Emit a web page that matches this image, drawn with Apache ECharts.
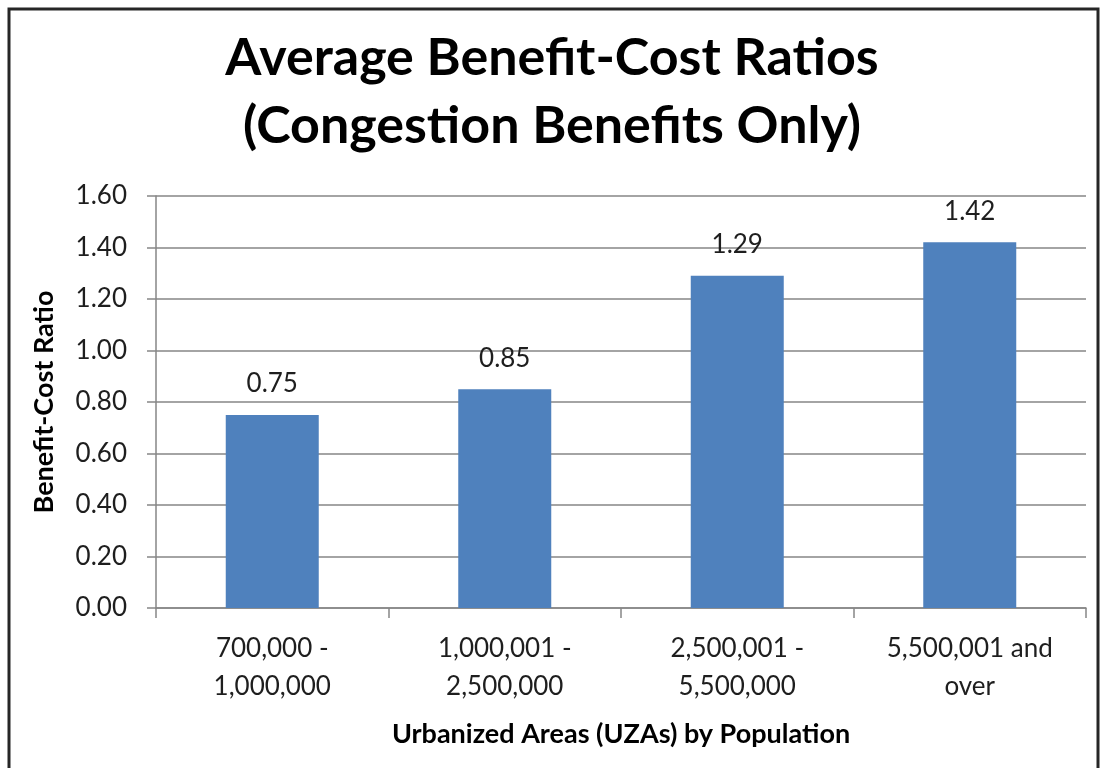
<!DOCTYPE html>
<html>
  <head>
    <meta charset="utf-8" />
    <title>Average Benefit-Cost Ratios</title>
    <script src="https://cdn.jsdelivr.net/npm/echarts@6/dist/echarts.min.js"></script>
  </head>
  <body style="margin:0;">
    <div id="main" style="width: 1104px;height:768px;"></div>
    <script type="text/javascript">
      var categories = ["700,000 -\n1,000,000", "1,000,001 -\n2,500,000", "2,500,001 -\n5,500,000", "5,500,001 and\nover"];
      var ratios = [0.75, 0.85, 1.29, 1.42];
      var yTicks = [0, 1.6, 0.2]; // min, max, step

      var font = "Lato, 'Open Sans', sans-serif";
      var myChart = echarts.init(document.getElementById("main"));

      var option = {
        backgroundColor: "#fff",
        animation: false,
        title: {
          text: "Average Benefit-Cost Ratios\n(Congestion Benefits Only)",
          left: "center",
          top: 19,
          textStyle: {
            fontFamily: font,
            fontSize: 52,
            fontWeight: "bold",
            color: "#000",
            lineHeight: 68
          }
        },
        graphic: [
          {
            type: "rect",
            shape: { x: 9, y: 9, width: 1089, height: 800 },
            style: { fill: "none", stroke: "#262626", lineWidth: 3 }
          }
        ],
        grid: { left: 156, right: 18, top: 196, bottom: 160 },
        xAxis: {
          type: "category",
          data: categories,
          name: "Urbanized Areas (UZAs) by Population",
          nameLocation: "middle",
          nameGap: 113,
          nameTextStyle: { fontFamily: font, fontSize: 27, fontWeight: "bold", color: "#000" },
          axisLine: { lineStyle: { color: "#868686", width: 1.5 } },
          axisTick: { show: true, length: 10, alignWithLabel: false, lineStyle: { color: "#868686", width: 1.5 } },
          axisLabel: {
            fontFamily: font,
            fontSize: 26,
            color: "#1e1e1e",
            lineHeight: 38,
            margin: 22,
            interval: 0
          }
        },
        yAxis: {
          type: "value",
          min: yTicks[0],
          max: yTicks[1],
          interval: yTicks[2],
          name: "Benefit-Cost Ratio",
          nameLocation: "middle",
          nameGap: 98,
          nameTextStyle: { fontFamily: font, fontSize: 27, fontWeight: "bold", color: "#000" },
          axisLine: { show: true, lineStyle: { color: "#868686", width: 1.5 } },
          axisTick: { show: true, length: 9, lineStyle: { color: "#868686", width: 1.5 } },
          splitLine: { lineStyle: { color: "#868686", width: 1.5 } },
          axisLabel: {
            fontFamily: font,
            fontSize: 26,
            color: "#1e1e1e",
            margin: 29,
            formatter: function (v) { return v.toFixed(2); }
          }
        },
        series: [
          {
            type: "bar",
            data: ratios,
            barCategoryGap: "60%",
            itemStyle: { color: "#4F81BD" },
            label: {
              show: true,
              position: "top",
              distance: 18,
              fontFamily: font,
              fontSize: 26,
              color: "#1e1e1e",
              formatter: function (p) { return p.value.toFixed(2); }
            }
          }
        ]
      };

      myChart.setOption(option);
    </script>
  </body>
</html>
